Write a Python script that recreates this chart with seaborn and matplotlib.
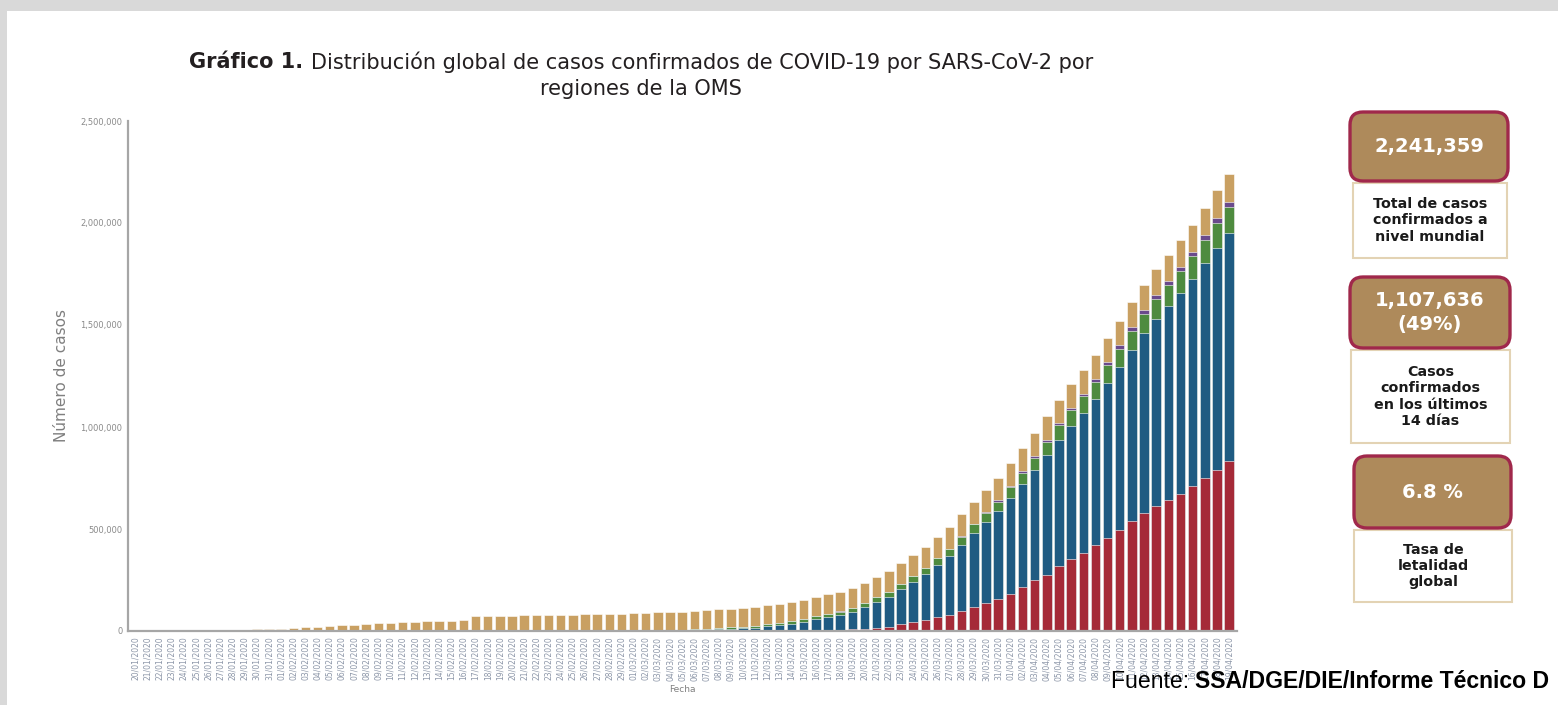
import numpy as np
import pandas as pd
import matplotlib
matplotlib.use("Agg")
import matplotlib.pyplot as plt
import seaborn as sns
from matplotlib.patches import FancyBboxPatch, Rectangle

# fechas de corte (20/01/2020 - 19/04/2020)
fechas = pd.date_range("2020-01-20", "2020-04-19").strftime("%d/%m/%Y").tolist()

# casos confirmados acumulados por region de la OMS
america = [0, 0, 0, 0, 1, 1, 2, 3, 5, 5, 5, 6, 6, 6, 8, 11, 11, 11, 12, 12,
           12, 12, 12, 13, 14, 15, 15, 15, 15, 15, 15, 15, 15, 15, 35, 35, 35, 53, 59, 60,
           62, 70, 90, 110, 140, 180, 250, 300, 400, 500,
           750, 950, 1400, 2000, 2700, 3400, 4300, 5600, 7300, 9500,
           12000, 16000, 20000, 32000, 42000, 56000, 68000, 78000, 97000, 116000,
           137000, 158000, 183000, 216000, 248000, 276000, 317000, 351000, 384000, 420000,
           456000, 497000, 538000, 577000, 611000, 644000, 673000, 709000, 750000, 790000,
           835000]
europa = [0, 0, 0, 0, 0, 2, 3, 3, 3, 3, 4, 8, 10, 13, 13, 22, 26, 28, 29, 31,
          34, 37, 39, 41, 43, 45, 46, 46, 47, 47, 47, 47, 47, 47, 80, 130, 270, 400, 530, 680,
          1000, 1500, 2100, 2600, 3100, 3900, 4800, 6000, 7700, 10000,
          13000, 16100, 20800, 26300, 34000, 42300, 53400, 62100, 70200, 84400,
          103600, 127900, 146700, 173200, 199800, 223800, 255800, 288300, 326700, 366100,
          397800, 428700, 469600, 502500, 540300, 585600, 620800, 656000, 686700, 719400,
          760200, 797300, 840900, 881600, 918100, 950900, 984900, 1017600, 1051500, 1089200,
          1118400]
mediterraneo = [0, 0, 0, 0, 0, 0, 0, 0, 0, 4, 4, 4, 4, 5, 5, 5, 5, 5, 7, 7,
                7, 8, 8, 8, 8, 8, 8, 8, 8, 9, 9, 9, 9, 9, 15, 60, 100, 150, 250, 400,
                550, 800, 1200, 1700, 2400, 3000, 3700, 4800, 5800, 6900,
                7500, 8500, 9700, 11000, 12000, 13500, 15000, 16000, 17500, 19000,
                20500, 22000, 24000, 25000, 27000, 29000, 32000, 34000, 37000, 40000,
                44000, 48000, 53000, 58000, 62000, 66000, 70000, 76000, 79000, 82000,
                86000, 90000, 92000, 95000, 98000, 101000, 105000, 110000, 115000, 120000,
                124000]
asia_sudeste = [2, 2, 2, 4, 5, 5, 8, 8, 14, 14, 14, 19, 20, 20, 20, 20, 25, 25, 28, 28,
                28, 28, 28, 28, 28, 28, 28, 28, 28, 28, 28, 28, 28, 28, 28, 28, 30, 35, 40, 42,
                45, 50, 60, 80, 100, 110, 120, 140, 160, 190,
                230, 280, 330, 380, 440, 520, 600, 700, 800, 900,
                1000, 1200, 1400, 1700, 2000, 2400, 2900, 3400, 4000, 4700,
                5400, 6200, 7000, 8000, 9000, 10000, 11000, 12000, 13000, 14000,
                15000, 16000, 17000, 18000, 19000, 20000, 21000, 22000, 23000, 24000,
                25000]
pacifico = [276, 280, 312, 577, 840, 1312, 2001, 2784, 4571, 6039,
            7791, 9789, 11913, 14513, 17345, 20572, 24487, 28205, 31405, 34808,
            37476, 40469, 43016, 45081, 46904, 48957, 50483, 51760, 71331, 73233,
            75105, 75649, 76670, 77695, 78653, 79078, 79804, 80471, 81415, 82470,
            83746, 84700, 85500, 86400, 87350, 88130, 89320, 90690, 91530, 91990,
            92200, 92500, 92800, 93100, 93400, 93800, 94200, 94700, 95300, 96000,
            97000, 99000, 100000, 101000, 102000, 103000, 104000, 105500, 107000, 108000,
            109000, 110000, 111000, 112000, 113000, 114000, 115000, 116000, 117000, 118000,
            119000, 121000, 123000, 125000, 127000, 129000, 131000, 133000, 135000, 137000,
            139000]

regiones = ["América", "Europa", "Mediterráneo Oriental", "Asia Sudoriental", "Pacífico Occidental"]
colores = ["#A52A38", "#1F5B82", "#4E8B3F", "#6A4A8C", "#C9A062"]

sns.set_style("white")
plt.rcParams["font.family"] = ["DejaVu Sans"]

W, H = 1558, 705
fig = plt.figure(figsize=(W / 100, H / 100), dpi=100, facecolor="#D9D9D9")
fig.patches.append(Rectangle((7 / W, 0), 1, (H - 11) / H, transform=fig.transFigure,
                             facecolor="white", edgecolor="none", zorder=-5))

ax = fig.add_axes([128 / W, 74 / H, 1109 / W, 510 / H])
ax.set_facecolor("white")

# barras apiladas: se dibuja el acumulado de arriba hacia abajo
acum = np.cumsum(np.array([america, europa, mediterraneo, asia_sudeste, pacifico]), axis=0)
for i in range(len(regiones) - 1, -1, -1):
    df = pd.DataFrame({"fecha": fechas, "casos": acum[i]})
    sns.barplot(data=df, x="fecha", y="casos", color=colores[i], saturation=1,
                width=0.78, edgecolor="white", linewidth=0.4, ax=ax, label=regiones[i])

ax.set_xlim(-0.6, 90.65)
ax.set_ylim(0, 2500000)
yt = list(range(0, 2500001, 500000))
ax.set_yticks(yt)
ax.set_yticklabels([f"{v:,}" for v in yt], fontsize=6, color="#8A8A8A")
ax.set_xticks(range(len(fechas)))
ax.set_xticklabels(fechas, rotation=90, fontsize=5.5, color="#8C96A8")
ax.tick_params(length=0, pad=4)
for s in ["top", "right"]:
    ax.spines[s].set_visible(False)
for s in ["left", "bottom"]:
    ax.spines[s].set_color("#A6A6A6")
    ax.spines[s].set_linewidth(1.6)
ax.set_ylabel("Número de casos", fontsize=11, color="#7F7F7F")
ax.yaxis.set_label_coords(-0.053, 0.5)
ax.set_xlabel("Fecha", fontsize=6.5, color="#7F7F7F", labelpad=3)
if ax.get_legend():
    ax.get_legend().remove()

# capa en pixeles para titulo, recuadros y fuente
ov = fig.add_axes([0, 0, 1, 1])
ov.set_xlim(0, W)
ov.set_ylim(H, 0)
ov.axis("off")
ov.patch.set_visible(False)
r = fig.canvas.get_renderer()


def mixto(x, y, partes, size, family, color, centrado=True):
    objs = [ov.text(0, y, t, fontsize=size, fontweight=w, family=family, color=color,
                    va="center", ha="left") for t, w in partes]
    anchos = [o.get_window_extent(r).width for o in objs]
    x0 = x - sum(anchos) / 2 if centrado else x
    for o, a in zip(objs, anchos):
        o.set_x(x0)
        x0 += a


mixto(641, 62, [("Gráfico 1. ", "bold"),
                ("Distribución global de casos confirmados de COVID-19 por SARS-CoV-2 por", "normal")],
      15, ["DejaVu Sans"], "#231F20")
ov.text(641, 89, "regiones de la OMS", fontsize=15, color="#231F20", ha="center", va="center")

tan = "#AE8A5B"
borde = "#A0284B"
cajas = [
    ((1348, 110, 162, 73), (1353, 183, 154, 75), "2,241,359",
     "Total de casos\nconfirmados a\nnivel mundial"),
    ((1348, 275, 164, 75), (1351, 350, 159, 93), "1,107,636\n(49%)",
     "Casos\nconfirmados\nen los últimos\n14 días"),
    ((1352, 454, 161, 76), (1354, 530, 158, 72), "6.8 %",
     "Tasa de\nletalidad\nglobal"),
]
for (hx, hy, hw, hh), (bx, by, bw, bh), num, desc in cajas:
    ov.add_patch(Rectangle((bx, by), bw, bh, facecolor="white", edgecolor="#E3D3B4", linewidth=1.5))
    ov.add_patch(FancyBboxPatch((hx + 2, hy + 2), hw - 4, hh - 4,
                                boxstyle="round,pad=0,rounding_size=13",
                                facecolor=tan, edgecolor=borde, linewidth=2.4))
    ov.text(hx + hw / 2, hy + hh / 2, num, fontsize=14, fontweight="bold", color="white",
            ha="center", va="center", linespacing=1.35)
    ov.text(bx + bw / 2, by + bh / 2, desc, fontsize=10.3, fontweight="bold", color="#1A1A1A",
            ha="center", va="center", linespacing=1.2)

mixto(1111, 681, [("Fuente: ", "normal"), ("SSA/DGE/DIE/Informe Técnico D", "bold")],
      16.6, ["Liberation Sans", "DejaVu Sans"], "black", centrado=False)

fig.savefig("out.png", dpi=100, facecolor=fig.get_facecolor())
